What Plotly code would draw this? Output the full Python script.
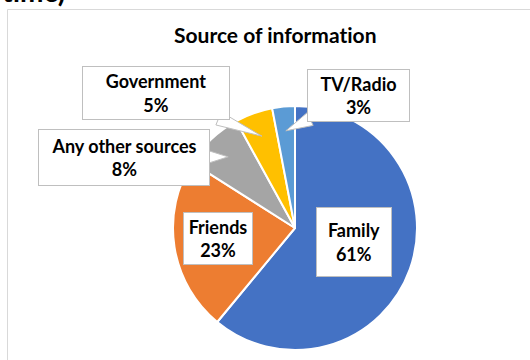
import math
import plotly.graph_objects as go

# ---- data ----
labels = ["Family", "Friends", "Any other sources", "Government", "TV/Radio"]
values = [61, 23, 8, 5, 3]
colors = ["#4472C4", "#ED7D31", "#A5A5A5", "#FFC000", "#5B9BD5"]
title_text = "Source of information"
cut_heading = "time)"

# ---- layout constants (pixels) ----
W, H = 530, 360
CX, CY, R = 295, 228, 122
FONT = "Lato"
# label boxes: (center x, center y, width, height, callout?)
boxes = [
    (354, 242, 76, 70, False),
    (218, 238, 70, 53, False),
    (124, 157, 172, 57, True),
    (156, 93, 148, 54, True),
    (358, 96, 103, 53, True),
]

def px(x):
    return x / W

def py(y):
    return 1 - y / H

fig = go.Figure()
fig.add_trace(go.Pie(
    labels=labels, values=values, sort=False, direction="clockwise", rotation=0,
    marker=dict(colors=colors, line=dict(color="white", width=2)),
    textinfo="none", hoverinfo="label+percent", showlegend=False,
    domain=dict(x=[px(CX - R), px(CX + R)], y=[py(CY + R), py(CY - R)]),
))

shapes = [dict(type="rect", xref="paper", yref="paper",
               x0=px(7.5), x1=px(W + 20), y0=py(H + 20), y1=py(9.5),
               line=dict(color="#D9D9D9", width=1), fillcolor="rgba(0,0,0,0)", layer="below")]
annotations = []

total = sum(values)
cum = 0
for lab, v, (bx, by, bw, bh, callout) in zip(labels, values, boxes):
    mid = (cum + v / 2) / total * 2 * math.pi
    cum += v
    if callout:
        tx = CX + 0.8 * R * math.sin(mid)
        ty = CY - 0.8 * R * math.cos(mid)
        dx, dy = tx - bx, ty - by
        L = math.hypot(dx, dy)
        ux, uy = dx / L, dy / L
        sx = (bw / 2) / abs(ux) if ux else 1e9
        sy = (bh / 2) / abs(uy) if uy else 1e9
        s = min(sx, sy)
        ex, ey = bx + ux * (s - 4), by + uy * (s - 4)
        pxp, pyp = -uy, ux
        b1 = (ex + 7 * pxp, ey + 7 * pyp)
        b2 = (ex - 7 * pxp, ey - 7 * pyp)
        path = "M {} {} L {} {} L {} {} Z".format(px(b1[0]), py(b1[1]), px(tx), py(ty), px(b2[0]), py(b2[1]))
        shapes.append(dict(type="path", xref="paper", yref="paper", path=path,
                           fillcolor="white", line=dict(color="#BFBFBF", width=1), layer="above"))
    annotations.append(dict(
        x=px(bx), y=py(by), xref="paper", yref="paper", xanchor="center", yanchor="middle",
        text="<b>{}</b><br><b>{}%</b>".format(lab, v), showarrow=False,
        width=bw - 2, height=bh - 2, bgcolor="white", bordercolor="#BFBFBF", borderwidth=1,
        borderpad=0, font=dict(family=FONT, size=18, color="#000000"), align="center",
    ))

# zero-width non-joiner keeps the font from drawing a "ti" ligature
title_display = title_text.replace("ti", "t\u200ci")
annotations.append(dict(x=px(275), y=py(35), xref="paper", yref="paper", xanchor="center",
                        yanchor="middle", text="<b>{}</b>".format(title_display), showarrow=False,
                        font=dict(family=FONT, size=21, color="#000000")))
annotations.append(dict(x=px(0), y=py(-9), xref="paper", yref="paper", xanchor="left",
                        yanchor="middle", text="<b>{}</b>".format(cut_heading), showarrow=False,
                        font=dict(family=FONT, size=28, color="#000000")))

fig.update_layout(width=W, height=H, autosize=False, margin=dict(l=0, r=0, t=0, b=0),
                  paper_bgcolor="white", plot_bgcolor="white",
                  shapes=shapes, annotations=annotations)
fig.write_html("out.html")
